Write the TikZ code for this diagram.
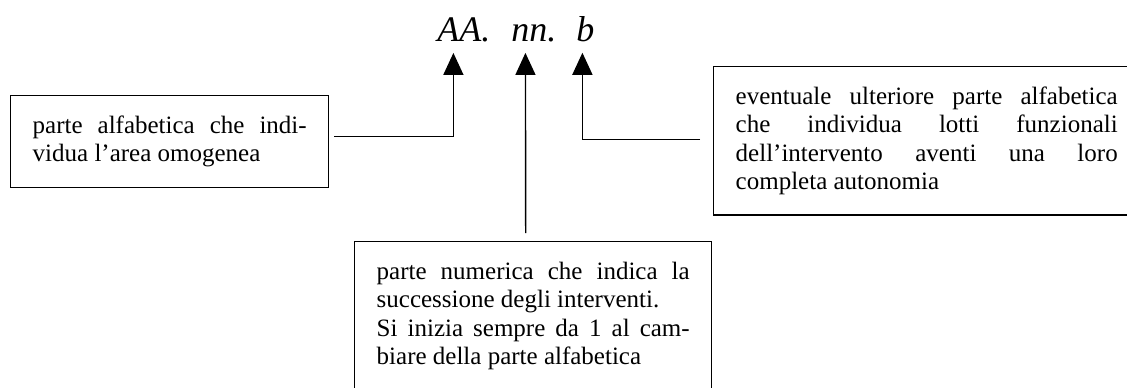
\documentclass[tikz,border=0pt]{standalone}
\usepackage{fontspec}
\setmainfont{Liberation Serif}
\usetikzlibrary{arrows.meta}

\tolerance=10000
\hyphenpenalty=10000

\tikzset{
  nota/.style={draw, line width=0.7pt, anchor=north west, align=justify,
    inner xsep=11pt, inner ysep=10pt, font=\fontsize{12.5}{14.25}\selectfont},
  sigla/.style={anchor=base west, inner sep=0pt,
    font=\fontsize{18}{20}\selectfont\itshape},
  freccia/.style={line width=0.7pt, -{Triangle[length=11pt,width=10pt]}, shorten >=5.5pt}
}

\begin{document}
\begin{tikzpicture}[x=0.5pt, y=-0.5pt]
  \useasboundingbox (0,0) rectangle (1127,387);

  % codice
  \node[sigla] (AA) at (437,41) {AA.};
  \node[sigla] (nn) at (511,41) {nn.};
  \node[sigla] (b) at (576,41) {b};

  % riquadri
  \node[nota, text width=137pt] (alfa) at (10,95)
    {parte alfabetica che indi-\linebreak vidua l'area omogenea};
  \node[nota, text width=191pt] (lotti) at (713,66)
    {eventuale ulteriore parte alfabetica\linebreak che individua lotti funzionali\linebreak
     dell'intervento aventi una loro\linebreak completa autonomia};
  \node[nota, text width=156.5pt] (num) at (354,241)
    {parte numerica che indica la\linebreak successione degli interventi.\newline
     Si inizia sempre da 1 al cam-\linebreak biare della parte alfabetica};

  % frecce
  \draw[freccia] ([xshift=2.5pt,yshift=2.5pt]alfa.east) -| ([xshift=-5.25pt]AA.south);
  \draw[freccia] ([xshift=-3.75pt,yshift=4pt]num.north) -- ([xshift=-4.25pt]nn.south);
  \draw[freccia] ([xshift=-6.5pt,yshift=0.75pt]lotti.west) -| ([xshift=-1.5pt]b.south);
\end{tikzpicture}
\end{document}
